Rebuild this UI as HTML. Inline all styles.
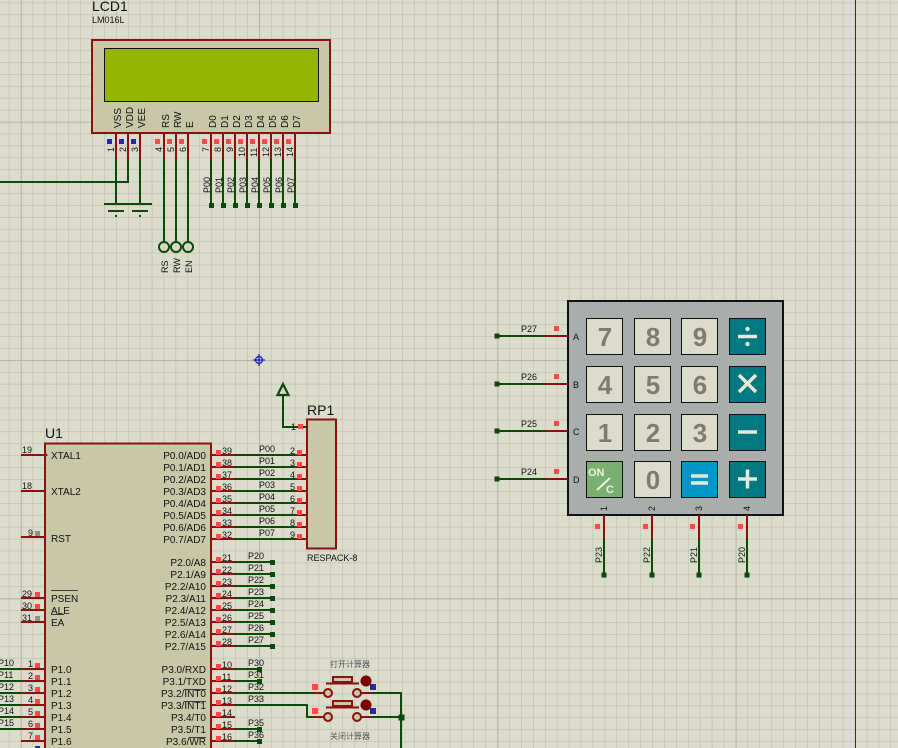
<!DOCTYPE html>
<html><head><meta charset="utf-8"><style>
html,body{margin:0;padding:0;background:#dcdccc;}
svg{display:block;}
text{font-family:"Liberation Sans","Noto Sans CJK SC",sans-serif;}
</style></head><body>
<svg width="898" height="748" viewBox="0 0 898 748" xmlns="http://www.w3.org/2000/svg">
<defs>
<pattern id="mn" patternUnits="userSpaceOnUse" x="259" y="121.7" width="11.915" height="11.915">
<path d="M0 0V11.915M0 0H11.915" stroke="#bdbdad" stroke-width="1.2" fill="none"/>
</pattern>
<pattern id="mj" patternUnits="userSpaceOnUse" x="259" y="121.7" width="238.3" height="238.3">
<path d="M0 0V238.3M0 0H238.3" stroke="#b8b8a8" stroke-width="2.2" fill="none"/>
</pattern>
</defs>
<rect width="898" height="748" fill="#dcdccc"/>
<rect width="898" height="748" fill="url(#mn)"/>
<rect width="898" height="748" fill="url(#mj)"/>
<line x1="855.5" y1="0" x2="855.5" y2="748" stroke="#2020c0" stroke-width="1"/>

<!-- crosshair -->
<g stroke="#2020c0" stroke-width="1.3" fill="none"><circle cx="259" cy="360" r="3.5"/><path d="M253 360H265M259 354V366"/></g>

<!-- LCD -->
<text x="92" y="11" font-size="14" fill="#111">LCD1</text>
<text x="92" y="23" font-size="9" fill="#111">LM016L</text>
<rect x="92" y="40" width="238" height="93" fill="#c8c8a8" stroke="#8b1010" stroke-width="2"/>
<rect x="104.5" y="48.5" width="214" height="53" fill="#94b400" stroke="#111" stroke-width="1"/>
<g font-size="10" fill="#111">
<text transform="translate(121,128) rotate(-90)">VSS</text>
<text transform="translate(133,128) rotate(-90)">VDD</text>
<text transform="translate(145,128) rotate(-90)">VEE</text>
<text transform="translate(169,128) rotate(-90)">RS</text>
<text transform="translate(181,128) rotate(-90)">RW</text>
<text transform="translate(193,128) rotate(-90)">E</text>
<text transform="translate(216,128) rotate(-90)">D0</text>
<text transform="translate(228,128) rotate(-90)">D1</text>
<text transform="translate(240,128) rotate(-90)">D2</text>
<text transform="translate(252,128) rotate(-90)">D3</text>
<text transform="translate(264,128) rotate(-90)">D4</text>
<text transform="translate(276,128) rotate(-90)">D5</text>
<text transform="translate(288,128) rotate(-90)">D6</text>
<text transform="translate(300,128) rotate(-90)">D7</text>
</g>
<g stroke="#8b1010" stroke-width="2">
<path d="M116 133V159M128 133V159M140 133V159M164 133V159M176 133V159M188 133V159M211 133V159M223 133V159M235 133V159M247 133V159M259 133V159M271 133V159M283 133V159M295 133V159"/>
</g>
<g fill="#2828a8"><rect x="107" y="139" width="5" height="5"/><rect x="119" y="139" width="5" height="5"/><rect x="131" y="139" width="5" height="5"/></g>
<g fill="#ff4848"><rect x="155" y="139" width="5" height="5"/><rect x="167" y="139" width="5" height="5"/><rect x="179" y="139" width="5" height="5"/><rect x="202" y="139" width="5" height="5"/><rect x="214" y="139" width="5" height="5"/><rect x="226" y="139" width="5" height="5"/><rect x="238" y="139" width="5" height="5"/><rect x="250" y="139" width="5" height="5"/><rect x="262" y="139" width="5" height="5"/><rect x="274" y="139" width="5" height="5"/><rect x="286" y="139" width="5" height="5"/></g>
<g font-size="9" fill="#111">
<text transform="translate(114,152) rotate(-90)">1</text>
<text transform="translate(126,152) rotate(-90)">2</text>
<text transform="translate(138,152) rotate(-90)">3</text>
<text transform="translate(162,152) rotate(-90)">4</text>
<text transform="translate(174,152) rotate(-90)">5</text>
<text transform="translate(186,152) rotate(-90)">6</text>
<text transform="translate(209,152) rotate(-90)">7</text>
<text transform="translate(221,152) rotate(-90)">8</text>
<text transform="translate(233,152) rotate(-90)">9</text>
<text transform="translate(245,157) rotate(-90)">10</text>
<text transform="translate(257,157) rotate(-90)">11</text>
<text transform="translate(269,157) rotate(-90)">12</text>
<text transform="translate(281,157) rotate(-90)">13</text>
<text transform="translate(293,157) rotate(-90)">14</text>
</g>
<g stroke="#0a4a0a" stroke-width="2" fill="none">
<path d="M116 159V204M140 159V204M104 204H152M128 159V182H0"/>
<path d="M108 211H124M132 211H148"/>
<path d="M164 159V242M176 159V242M188 159V242"/>
<path d="M211 159V205M223 159V205M235 159V205M247 159V205M259 159V205M271 159V205M283 159V205M295 159V205"/>
</g>
<g fill="#0a4a0a"><rect x="115" y="215" width="2" height="2"/><rect x="139" y="215" width="2" height="2"/>
<rect x="209" y="203" width="5" height="5"/><rect x="221" y="203" width="5" height="5"/><rect x="233" y="203" width="5" height="5"/><rect x="245" y="203" width="5" height="5"/><rect x="257" y="203" width="5" height="5"/><rect x="269" y="203" width="5" height="5"/><rect x="281" y="203" width="5" height="5"/><rect x="293" y="203" width="5" height="5"/></g>
<g stroke="#0a4a0a" stroke-width="2" fill="none"><circle cx="164" cy="247" r="5"/><circle cx="176" cy="247" r="5"/><circle cx="188" cy="247" r="5"/></g>
<g font-size="9" fill="#111">
<text transform="translate(168,273) rotate(-90)">RS</text>
<text transform="translate(180,273) rotate(-90)">RW</text>
<text transform="translate(192,273) rotate(-90)">EN</text>
<text transform="translate(210,193) rotate(-90)">P00</text>
<text transform="translate(222,193) rotate(-90)">P01</text>
<text transform="translate(234,193) rotate(-90)">P02</text>
<text transform="translate(246,193) rotate(-90)">P03</text>
<text transform="translate(258,193) rotate(-90)">P04</text>
<text transform="translate(270,193) rotate(-90)">P05</text>
<text transform="translate(282,193) rotate(-90)">P06</text>
<text transform="translate(294,193) rotate(-90)">P07</text>
</g>

<!-- RP1 -->
<text x="307" y="415" font-size="14" fill="#111">RP1</text>
<rect x="307" y="419.5" width="29" height="129" fill="#c8c8a8" stroke="#8b1010" stroke-width="2"/>
<text x="307" y="561" font-size="9" fill="#111">RESPACK-8</text>
<path d="M283 427H307" stroke="#8b1010" stroke-width="2"/>
<path d="M307 427H283V396" stroke="#0a4a0a" stroke-width="2" fill="none"/>
<path d="M283 384L277.5 395H288.5Z" stroke="#0a4a0a" stroke-width="2.2" fill="none"/>
<rect x="298" y="424" width="5" height="5" fill="#ff4848"/>
<text x="291" y="430" font-size="9" fill="#111">1</text>

<!-- U1 -->
<text x="45" y="438" font-size="14" fill="#111">U1</text>
<rect x="45" y="443.5" width="166" height="320" fill="#c8c8a8" stroke="#8b1010" stroke-width="2"/>
<g stroke="#8b1010" stroke-width="2">
<path d="M21 455H45M21 491H45M21 537H45M21 598H45M21 610H45M21 622H45"/>
<path d="M21 669H45M21 681H45M21 693H45M21 705H45M21 717H45M21 729H45M21 741H45"/>
<path d="M211 455H235M211 467H235M211 479H235M211 491H235M211 503H235M211 515H235M211 527H235M211 539H235"/>
<path d="M211 562H235M211 574H235M211 586H235M211 598H235M211 610H235M211 622H235M211 634H235M211 646H235"/>
<path d="M211 669H235M211 681H235M211 693H235M211 705H235M211 717H235M211 729H235M211 741H235"/>
<path d="M295 455H307M295 467H307M295 479H307M295 491H307M295 503H307M295 515H307M295 527H307M295 539H307"/>
</g>
<path d="M44 452L48 455L44 458Z" fill="#8b1010"/>
<g stroke="#0a4a0a" stroke-width="2" fill="none">
<path d="M235 455H295M235 467H295M235 479H295M235 491H295M235 503H295M235 515H295M235 527H295M235 539H295"/>
<path d="M235 562H272M235 574H272M235 586H272M235 598H272M235 610H272M235 622H272M235 634H272M235 646H272"/>
<path d="M235 669H259M235 681H259M235 729H259M235 741H259"/>
<path d="M235 693H313M235 705H307V717H313M372 693H401V748M372 717H401"/>
<path d="M0 669H21M0 681H21M0 693H21M0 705H21M0 717H21M0 729H21"/>
</g>
<g fill="#0a4a0a">
<rect x="270" y="560" width="5" height="5"/><rect x="270" y="572" width="5" height="5"/><rect x="270" y="584" width="5" height="5"/><rect x="270" y="596" width="5" height="5"/><rect x="270" y="608" width="5" height="5"/><rect x="270" y="620" width="5" height="5"/><rect x="270" y="632" width="5" height="5"/><rect x="270" y="644" width="5" height="5"/>
<rect x="257" y="667" width="5" height="5"/><rect x="257" y="679" width="5" height="5"/><rect x="257" y="727" width="5" height="5"/><rect x="257" y="739" width="5" height="5"/>
<rect x="398.5" y="714.5" width="6" height="6"/>
</g>
<g fill="#ff4848">
<rect x="216" y="450" width="5" height="5"/><rect x="216" y="462" width="5" height="5"/><rect x="216" y="474" width="5" height="5"/><rect x="216" y="486" width="5" height="5"/><rect x="216" y="498" width="5" height="5"/><rect x="216" y="510" width="5" height="5"/><rect x="216" y="522" width="5" height="5"/><rect x="216" y="534" width="5" height="5"/>
<rect x="216" y="557" width="5" height="5"/><rect x="216" y="569" width="5" height="5"/><rect x="216" y="581" width="5" height="5"/><rect x="216" y="593" width="5" height="5"/><rect x="216" y="605" width="5" height="5"/><rect x="216" y="617" width="5" height="5"/><rect x="216" y="629" width="5" height="5"/><rect x="216" y="641" width="5" height="5"/>
<rect x="216" y="664" width="5" height="5"/><rect x="216" y="676" width="5" height="5"/><rect x="216" y="688" width="5" height="5"/><rect x="216" y="700" width="5" height="5"/><rect x="216" y="712" width="5" height="5"/><rect x="216" y="724" width="5" height="5"/><rect x="216" y="736" width="5" height="5"/>
<rect x="297" y="450" width="5" height="5"/><rect x="297" y="462" width="5" height="5"/><rect x="297" y="474" width="5" height="5"/><rect x="297" y="486" width="5" height="5"/><rect x="297" y="498" width="5" height="5"/><rect x="297" y="510" width="5" height="5"/><rect x="297" y="522" width="5" height="5"/><rect x="297" y="534" width="5" height="5"/>
<rect x="35" y="592" width="5" height="5"/><rect x="35" y="604" width="5" height="5"/>
<rect x="35" y="663" width="5" height="5"/><rect x="35" y="675" width="5" height="5"/><rect x="35" y="687" width="5" height="5"/><rect x="35" y="699" width="5" height="5"/><rect x="35" y="711" width="5" height="5"/><rect x="35" y="723" width="5" height="5"/><rect x="35" y="735" width="5" height="5"/>
</g>
<g fill="#909090"><rect x="35" y="531" width="5" height="5"/><rect x="35" y="616" width="5" height="5"/></g>
<rect x="35" y="746" width="5" height="3" fill="#2828a8"/>
<g font-size="9" fill="#111">
<text x="22" y="453">19</text><text x="22" y="489">18</text><text x="28" y="536">9</text>
<text x="22" y="597">29</text><text x="22" y="609">30</text><text x="22" y="621">31</text>
<text x="28" y="667">1</text><text x="28" y="679">2</text><text x="28" y="691">3</text><text x="28" y="703">4</text><text x="28" y="715">5</text><text x="28" y="727">6</text><text x="28" y="739">7</text>
<text x="-2" y="666">P10</text><text x="-2" y="678">P11</text><text x="-2" y="690">P12</text><text x="-2" y="702">P13</text><text x="-2" y="714">P14</text><text x="-2" y="726">P15</text>
<text x="222" y="454">39</text><text x="222" y="466">38</text><text x="222" y="478">37</text><text x="222" y="490">36</text><text x="222" y="502">35</text><text x="222" y="514">34</text><text x="222" y="526">33</text><text x="222" y="538">32</text>
<text x="222" y="561">21</text><text x="222" y="573">22</text><text x="222" y="585">23</text><text x="222" y="597">24</text><text x="222" y="609">25</text><text x="222" y="621">26</text><text x="222" y="633">27</text><text x="222" y="645">28</text>
<text x="222" y="668">10</text><text x="222" y="680">11</text><text x="222" y="692">12</text><text x="222" y="704">13</text><text x="222" y="716">14</text><text x="222" y="728">15</text><text x="222" y="740">16</text>
<text x="259" y="452">P00</text><text x="259" y="464">P01</text><text x="259" y="476">P02</text><text x="259" y="488">P03</text><text x="259" y="500">P04</text><text x="259" y="512">P05</text><text x="259" y="524">P06</text><text x="259" y="536">P07</text>
<text x="290" y="454">2</text><text x="290" y="466">3</text><text x="290" y="478">4</text><text x="290" y="490">5</text><text x="290" y="502">6</text><text x="290" y="514">7</text><text x="290" y="526">8</text><text x="290" y="538">9</text>
<text x="248" y="559">P20</text><text x="248" y="571">P21</text><text x="248" y="583">P22</text><text x="248" y="595">P23</text><text x="248" y="607">P24</text><text x="248" y="619">P25</text><text x="248" y="631">P26</text><text x="248" y="643">P27</text>
<text x="248" y="666">P30</text><text x="248" y="678">P31</text><text x="248" y="690">P32</text><text x="248" y="702">P33</text><text x="248" y="726">P35</text><text x="248" y="738">P36</text>
</g>
<g font-size="10" fill="#111">
<text x="51" y="459">XTAL1</text><text x="51" y="495">XTAL2</text><text x="51" y="542">RST</text>
<text x="51" y="602">PSEN</text><text x="51" y="614">ALE</text><text x="51" y="626">EA</text>
<text x="51" y="673">P1.0</text><text x="51" y="685">P1.1</text><text x="51" y="697">P1.2</text><text x="51" y="709">P1.3</text><text x="51" y="721">P1.4</text><text x="51" y="733">P1.5</text><text x="51" y="745">P1.6</text>
</g>
<path d="M51 590.5H78M51 614.5H64" stroke="#111" stroke-width="0.8"/>
<g font-size="10" fill="#111" text-anchor="end">
<text x="206" y="459">P0.0/AD0</text><text x="206" y="471">P0.1/AD1</text><text x="206" y="483">P0.2/AD2</text><text x="206" y="495">P0.3/AD3</text><text x="206" y="507">P0.4/AD4</text><text x="206" y="519">P0.5/AD5</text><text x="206" y="531">P0.6/AD6</text><text x="206" y="543">P0.7/AD7</text>
<text x="206" y="566">P2.0/A8</text><text x="206" y="578">P2.1/A9</text><text x="206" y="590">P2.2/A10</text><text x="206" y="602">P2.3/A11</text><text x="206" y="614">P2.4/A12</text><text x="206" y="626">P2.5/A13</text><text x="206" y="638">P2.6/A14</text><text x="206" y="650">P2.7/A15</text>
<text x="206" y="673">P3.0/RXD</text><text x="206" y="685">P3.1/TXD</text><text x="206" y="697">P3.2/INT0</text><text x="206" y="709">P3.3/INT1</text><text x="206" y="721">P3.4/T0</text><text x="206" y="733">P3.5/T1</text><text x="206" y="745">P3.6/WR</text>
</g>
<path d="M184 689.5H206M184 701.5H206M189 737.5H206" stroke="#111" stroke-width="0.8"/>

<!-- switches -->
<g font-size="8" fill="#555"><text x="330" y="667">打开计算器</text><text x="330" y="739">关闭计算器</text></g>
<g stroke="#8b1010" stroke-width="2" fill="#c8c8a8">
<path d="M313 693H324M361 693H372M313 717H324M361 717H372" fill="none"/>
<rect x="333" y="677" width="19" height="5"/><path d="M326 683.5H359" fill="none"/>
<circle cx="328" cy="693" r="4"/><circle cx="357" cy="693" r="4"/>
<rect x="333" y="701" width="19" height="5"/><path d="M326 707.5H359" fill="none"/>
<circle cx="328" cy="717" r="4"/><circle cx="357" cy="717" r="4"/>
</g>
<g fill="#7a0000"><circle cx="366" cy="681" r="5.5"/><circle cx="366" cy="705" r="5.5"/></g>
<g fill="#2828a8"><rect x="370" y="684" width="6" height="6"/><rect x="370" y="708" width="6" height="6"/></g>
<g fill="#ff4848"><rect x="312" y="684" width="6" height="6"/><rect x="312" y="708" width="6" height="6"/></g>

<!-- keypad -->
<rect x="568" y="301" width="215" height="214" fill="#a9adab" stroke="#111" stroke-width="2"/>
<g stroke="#0a4a0a" stroke-width="2"><path d="M497 336H545M497 384H545M497 431H545M497 479H545M604 538V575M652 538V575M699 538V575M747 538V575"/></g>
<g stroke="#8b1010" stroke-width="2"><path d="M545 336H568M545 384H568M545 431H568M545 479H568M604 515V538M652 515V538M699 515V538M747 515V538"/></g>
<g fill="#0a4a0a"><rect x="494.5" y="333.5" width="5" height="5"/><rect x="494.5" y="381.5" width="5" height="5"/><rect x="494.5" y="428.5" width="5" height="5"/><rect x="494.5" y="476.5" width="5" height="5"/>
<rect x="601.5" y="572.5" width="5" height="5"/><rect x="649.5" y="572.5" width="5" height="5"/><rect x="696.5" y="572.5" width="5" height="5"/><rect x="744.5" y="572.5" width="5" height="5"/></g>
<g fill="#ff4848"><rect x="554" y="326" width="5" height="5"/><rect x="554" y="374" width="5" height="5"/><rect x="554" y="421" width="5" height="5"/><rect x="554" y="469" width="5" height="5"/>
<rect x="595" y="524" width="5" height="5"/><rect x="643" y="524" width="5" height="5"/><rect x="690" y="524" width="5" height="5"/><rect x="738" y="524" width="5" height="5"/></g>
<g font-size="9" fill="#111">
<text x="521" y="332">P27</text><text x="521" y="380">P26</text><text x="521" y="427">P25</text><text x="521" y="475">P24</text>
<text x="573" y="340">A</text><text x="573" y="388">B</text><text x="573" y="435">C</text><text x="573" y="483">D</text>
<text transform="translate(602,563) rotate(-90)">P23</text><text transform="translate(650,563) rotate(-90)">P22</text><text transform="translate(697,563) rotate(-90)">P21</text><text transform="translate(745,563) rotate(-90)">P20</text>
<text transform="translate(607,511) rotate(-90)">1</text><text transform="translate(655,511) rotate(-90)">2</text><text transform="translate(702,511) rotate(-90)">3</text><text transform="translate(750,511) rotate(-90)">4</text>
</g>
<g stroke="#111" stroke-width="1">
<rect x="586.5" y="318.5" width="36" height="36" fill="#dcdccc"/><rect x="634.5" y="318.5" width="36" height="36" fill="#dcdccc"/><rect x="681.5" y="318.5" width="36" height="36" fill="#dcdccc"/><rect x="729.5" y="318.5" width="36" height="36" fill="#007a80"/>
<rect x="586.5" y="366.5" width="36" height="36" fill="#dcdccc"/><rect x="634.5" y="366.5" width="36" height="36" fill="#dcdccc"/><rect x="681.5" y="366.5" width="36" height="36" fill="#dcdccc"/><rect x="729.5" y="366.5" width="36" height="36" fill="#007a80"/>
<rect x="586.5" y="414.5" width="36" height="36" fill="#dcdccc"/><rect x="634.5" y="414.5" width="36" height="36" fill="#dcdccc"/><rect x="681.5" y="414.5" width="36" height="36" fill="#dcdccc"/><rect x="729.5" y="414.5" width="36" height="36" fill="#007a80"/>
<rect x="586.5" y="461.5" width="36" height="36" fill="#78b070"/><rect x="634.5" y="461.5" width="36" height="36" fill="#dcdccc"/><rect x="681.5" y="461.5" width="36" height="36" fill="#0096c8"/><rect x="729.5" y="461.5" width="36" height="36" fill="#007a80"/>
</g>
<g font-size="26" font-weight="bold" fill="#7c7c74" text-anchor="middle">
<text x="605" y="346">7</text><text x="653" y="346">8</text><text x="700" y="346">9</text>
<text x="605" y="394">4</text><text x="653" y="394">5</text><text x="700" y="394">6</text>
<text x="605" y="442">1</text><text x="653" y="442">2</text><text x="700" y="442">3</text>
<text x="653" y="489">0</text>
</g>
<g stroke="#e8e8d8" stroke-width="3.5" fill="none">
<path d="M738 336.5H757"/><path d="M739 375L756 392M756 375L739 392"/><path d="M738 432H757"/><path d="M738 479H757M747.5 469.5V488.5"/>
<path d="M691 476H708M691 483H708"/>
</g>
<g fill="#e8e8d8"><circle cx="747.5" cy="329" r="2.2"/><circle cx="747.5" cy="344" r="2.2"/></g>
<g fill="#f0f0e0" font-weight="bold" font-size="11"><text x="588" y="476">ON</text><text x="606" y="493">C</text></g>
<path d="M597 490L610 478" stroke="#f0f0e0" stroke-width="2"/>
</svg>
</body></html>
